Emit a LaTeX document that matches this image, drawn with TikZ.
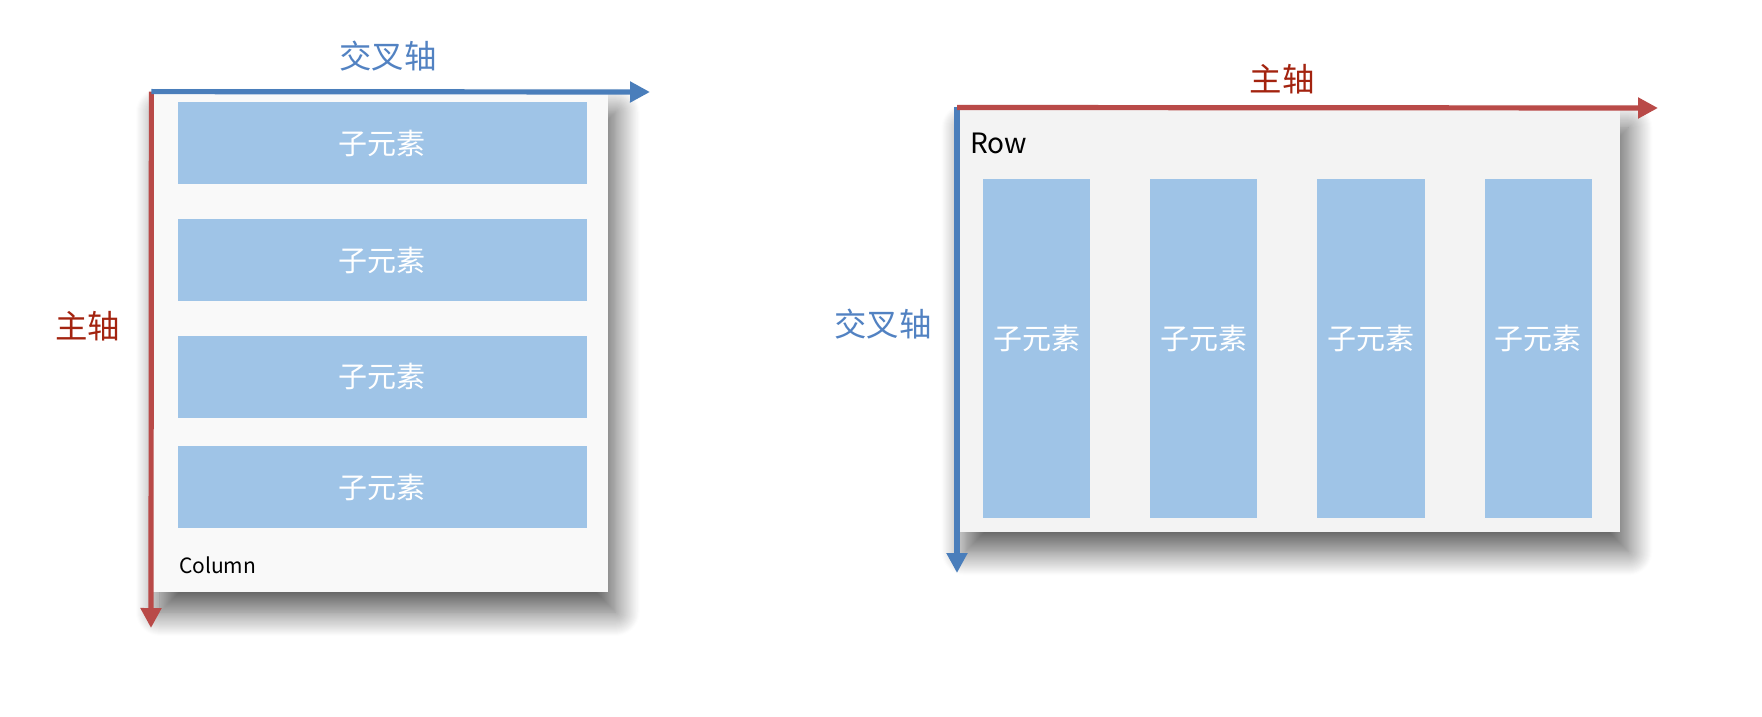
\documentclass[tikz,border=0pt]{standalone}
\usepackage{fontspec}
\setmainfont{Noto Sans CJK SC}
\usetikzlibrary{arrows.meta,shadows.blur}

\definecolor{zhured}{HTML}{B94A48}
\definecolor{zhutext}{HTML}{A3230F}
\definecolor{jiaoblue}{HTML}{4A7EBB}
\definecolor{jiaotext}{HTML}{5282C2}
\definecolor{ziblue}{HTML}{9FC4E7}

\begin{document}
\begin{tikzpicture}[x=0.5pt,y=-0.5pt,
    panel/.style={inner sep=0pt, blur shadow={shadow xshift=4pt, shadow yshift=-10pt,
        shadow blur radius=12pt, shadow blur steps=24, shadow opacity=65}},
    zi/.style={fill=ziblue, text=white, inner sep=0pt, font=\fontsize{14.5}{14.5}\selectfont},
    axis/.style={line width=2.6pt, -{Triangle[length=10pt,width=10pt]}},
    axislabel/.style={font=\fontsize{16.2}{16.2}\selectfont}]
    \useasboundingbox (0,0) rectangle (1762,717);

    % 左图: Column
    \node[panel, fill={rgb,255:red,249;green,249;blue,249}, minimum width=228pt, minimum height=250pt]
        (colbox) at (379.8,342) {};
    \foreach \y [count=\i] in {143.3, 260.1, 376.5, 487.1}
        \node[zi, minimum width=204.5pt, minimum height=41pt] (c\i) at (382,\y) {子元素};
    \node[anchor=west, font=\fontsize{10.5}{10.5}\selectfont] (collabel) at (172,565) {Column};

    % 左图坐标轴
    \coordinate (colmain) at (151,628);
    \coordinate (colcross) at (650,92);
    \draw[axis, zhured] (colbox.north west) -- (colmain);
    \draw[axis, jiaoblue] (colbox.north west) -- (colcross);
    \node[axislabel, text=jiaotext] (colcrosslabel) at (388,56) {交叉轴};
    \node[axislabel, text=zhutext] (colmainlabel) at (88,326) {主轴};

    % 右图: Row
    \node[panel, fill={rgb,255:red,243;green,243;blue,243}, minimum width=331.5pt, minimum height=211.8pt]
        (rowbox) at (1288.9,319.7) {};
    \foreach \x [count=\i] in {1036.6, 1203.5, 1371, 1538.4}
        \node[zi, minimum width=53.8pt, minimum height=169.7pt, text depth=11pt] (r\i) at (\x,348.4) {子元素};
    \node[anchor=west, font=\fontsize{14}{14}\selectfont] (rowlabel) at (963,143) {Row};

    % 右图坐标轴
    \coordinate (rowcross) at (957,573);
    \coordinate (rowmain) at (1658,108);
    \draw[axis, jiaoblue] (rowbox.north west) -- (rowcross);
    \draw[axis, zhured] (rowbox.north west) -- (rowmain);
    \node[axislabel, text=zhutext] (rowmainlabel) at (1282,79) {主轴};
    \node[axislabel, text=jiaotext] (rowcrosslabel) at (883,324) {交叉轴};
\end{tikzpicture}
\end{document}
